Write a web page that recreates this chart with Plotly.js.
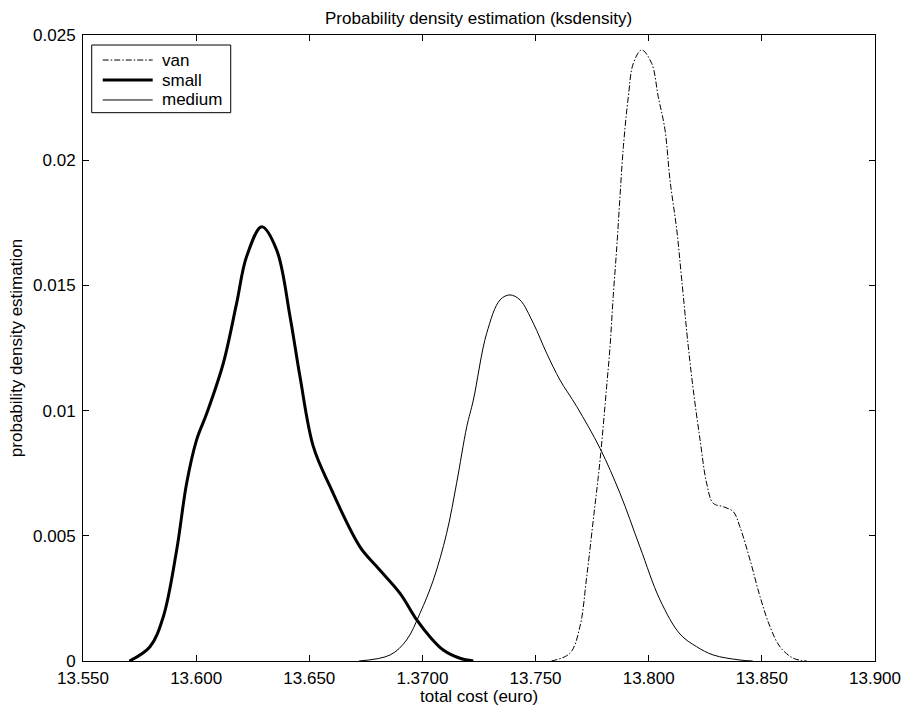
<!DOCTYPE html>
<html>
<head>
<meta charset="utf-8">
<script src="https://cdn.plot.ly/plotly-3.0.1.min.js"></script>
<style>html,body{margin:0;padding:0;background:#fff;}#chart{width:904px;height:707px;}</style>
</head>
<body>
<div id="chart"></div>
<script>
// total cost (euro) grid values for each density curve
const vanX = [13757, 13765.2, 13769.6, 13772.6, 13775.5, 13778.5, 13781.4, 13782.9, 13784.3, 13785.9, 13787.3, 13788.8, 13791.0, 13793.2, 13796.9, 13801.3, 13804.2, 13807.2, 13809.4, 13812.4, 13814.6, 13817.5, 13819.7, 13822.7, 13825.6, 13828.5, 13833.0, 13837.4, 13840.3, 13844.8, 13849.2, 13853.6, 13858.0, 13863.9, 13869.8];
const vanY = [0, 0.00031, 0.00137, 0.00337, 0.00563, 0.00803, 0.01095, 0.01255, 0.01455, 0.01655, 0.01854, 0.02054, 0.02254, 0.02387, 0.0244, 0.02387, 0.02254, 0.02121, 0.01921, 0.01721, 0.01522, 0.01255, 0.01082, 0.00883, 0.0071, 0.0063, 0.00616, 0.00596, 0.00536, 0.00403, 0.00257, 0.00137, 0.00057, 0.00011, 0];

const smallX = [13570.5, 13579.6, 13585.5, 13591.4, 13595.8, 13600.2, 13604.7, 13612.0, 13617.9, 13622.3, 13629.0, 13635.6, 13641.5, 13645.9, 13651.8, 13659.2, 13672.4, 13679.8, 13690.1, 13697.5, 13703.3, 13709.2, 13716.6, 13722.5];
const smallY = [0, 0.00057, 0.00177, 0.00443, 0.0071, 0.00883, 0.00989, 0.01189, 0.01429, 0.01615, 0.01734, 0.01641, 0.01375, 0.01135, 0.00856, 0.00696, 0.00456, 0.00377, 0.0027, 0.00164, 0.00097, 0.00044, 0.00011, 0];

const mediumX = [13672, 13685.7, 13693.0, 13698.9, 13704.8, 13710.7, 13715.1, 13719.6, 13722.5, 13728.4, 13734.3, 13738.7, 13743.1, 13749.0, 13754.9, 13760.8, 13768.2, 13778.5, 13787.3, 13796.1, 13805.0, 13813.8, 13821.2, 13828.5, 13840.3, 13846];
const mediumY = [0, 0.00024, 0.00084, 0.0019, 0.00323, 0.0051, 0.0071, 0.00936, 0.01042, 0.01309, 0.01442, 0.01462, 0.01442, 0.01349, 0.01229, 0.01122, 0.01016, 0.00849, 0.0067, 0.00456, 0.00244, 0.00108, 0.00057, 0.00024, 0.00004, 0];

const seriesNames = ["van", "small", "medium"];

const xTickVals = [13550, 13600, 13650, 13700, 13750, 13800, 13850, 13900];
const xTickText = ["13.550", "13.600", "13.650", "1.3700", "13.750", "13.800", "13.850", "13.900"];
const yTickVals = [0, 0.005, 0.01, 0.015, 0.02, 0.025];
const yTickText = ["0", "0.005", "0.01", "0.015", "0.02", "0.025"];

const FONT = "Liberation Sans, Arial, sans-serif";
const FS = 17;

const styles = [
  {color: "#000", width: 1, dash: "6px,2px,1.5px,2px"},
  {color: "#000", width: 3, dash: "solid"},
  {color: "#000", width: 1, dash: "solid"}
];

const xs = [vanX, smallX, mediumX];
const ys = [vanY, smallY, mediumY];

const traces = xs.map((x, i) => ({
  x: x, y: ys[i], name: seriesNames[i], type: "scatter", mode: "lines",
  line: Object.assign({shape: "spline", smoothing: 1}, styles[i]),
  showlegend: false
}));

// boxed legend (MATLAB style) drawn in paper coordinates
const L = {x0: 0.011, x1: 0.1865, y0: 0.8759, y1: 0.984, sx0: 0.0249, sx1: 0.088, tx: 0.0972, rows: [0.960, 0.9281, 0.8962]};
const shapes = [{type: "rect", xref: "paper", yref: "paper", x0: L.x0, x1: L.x1, y0: L.y0, y1: L.y1,
                 line: {color: "#000", width: 1}, fillcolor: "#fff", layer: "above"}];
const annotations = [];
seriesNames.forEach((n, i) => {
  shapes.push({type: "line", xref: "paper", yref: "paper", x0: L.sx0, x1: L.sx1, y0: L.rows[i], y1: L.rows[i],
               line: styles[i], layer: "above"});
  annotations.push({xref: "paper", yref: "paper", x: L.tx, y: L.rows[i], xanchor: "left", yanchor: "middle",
                    text: n, showarrow: false, font: {family: FONT, size: FS, color: "#000"}});
});
// x-axis title placed just under the tick labels, as in the original
annotations.push({xref: "paper", yref: "paper", x: 0.5, y: -0.0575, xanchor: "center", yanchor: "middle",
                  text: "total cost (euro)", showarrow: false, font: {family: FONT, size: FS, color: "#000"}});

const layout = {
  width: 904, height: 707,
  margin: {l: 83, r: 29, t: 35, b: 46, pad: 0},
  paper_bgcolor: "#fff", plot_bgcolor: "#fff",
  font: {family: FONT, size: FS, color: "#000"},
  title: {text: "Probability density estimation (ksdensity)", font: {family: FONT, size: FS, color: "#000"},
          x: 0.5294, xref: "container", xanchor: "center", y: 0.9745, yref: "container", yanchor: "middle"},
  xaxis: {range: [13550, 13900], tickvals: xTickVals, ticktext: xTickText,
          ticks: "inside", ticklen: 6, tickwidth: 1, tickcolor: "#000",
          showline: true, linecolor: "#000", linewidth: 1, mirror: "ticks",
          showgrid: false, zeroline: false, tickfont: {size: FS}, ticklabelstandoff: 2},
  yaxis: {range: [0, 0.025], tickvals: yTickVals, ticktext: yTickText,
          ticks: "inside", ticklen: 6, tickwidth: 1, tickcolor: "#000",
          showline: true, linecolor: "#000", linewidth: 1, mirror: "ticks",
          showgrid: false, zeroline: false, tickfont: {size: FS}, ticklabelstandoff: 3,
          title: {text: "probability density estimation", font: {size: FS}, standoff: 6}},
  showlegend: false,
  shapes: shapes,
  annotations: annotations
};

Plotly.newPlot("chart", traces, layout, {displayModeBar: false, staticPlot: true});
</script>
</body>
</html>
